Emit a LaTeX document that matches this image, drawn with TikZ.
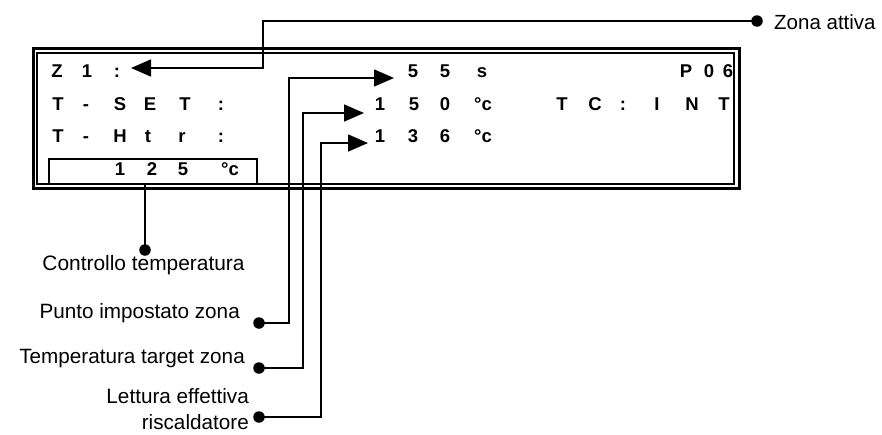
\documentclass[tikz,border=0pt]{standalone}
\usepackage{fontspec}
\setmainfont{Liberation Sans}
\usetikzlibrary{arrows.meta}
\tikzset{
  lcd/.style={font=\fontsize{18.5}{18.5}\selectfont\bfseries, inner sep=0pt, anchor=base},
  lbl/.style={font=\fontsize{20.7}{21}\selectfont, inner sep=0pt, anchor=base east},
  wire/.style={line width=1.6pt},
  arr/.style={wire, -{Triangle[length=20pt,width=17pt]}},
  dotc/.style={circle, fill=black, inner sep=0pt, minimum size=11.5pt}
}
\begin{document}
\begin{tikzpicture}[x=1pt,y=-1pt]
\useasboundingbox (0,0) rectangle (882,434);
% display frame
\draw[line width=3pt] (33,48) rectangle (739,188);
\draw[line width=2pt] (37,53) rectangle (734,184);
\node[draw, line width=1.4pt, minimum width=208pt, minimum height=25pt, inner sep=0pt] (tbox) at (153,171.5) {};
% LCD characters
\foreach \c/\x [count=\i] in {Z/57,1/87,:/117,5/413,5/445,s/482,P/686,0/709,6/728}
  \node[lcd] (ra\i) at (\x,77) {\c};
\foreach \c/\x [count=\i] in {T/58,-/86,S/120,E/150,T/185,:/221,1/380,5/414,0/445,°c/483,T/562,C/595,:/623,I/657,N/692,T/724}
  \node[lcd] (rb\i) at (\x,110) {\c};
\foreach \c/\x [count=\i] in {T/58,-/86,H/120,t/148,r/182,:/221,1/380,3/413,6/445,°c/483}
  \node[lcd] (rc\i) at (\x,142) {\c};
\foreach \c/\x [count=\i] in {1/120,2/152,5/183,°c/230}
  \node[lcd] (rd\i) at (\x,175) {\c};
% labels
\node[font=\fontsize{20.5}{21}\selectfont, inner sep=0pt, anchor=base west] (zona) at (774,29) {Zona attiva};
\node[font=\fontsize{20.9}{21}\selectfont, inner sep=0pt, anchor=base] (ctrl) at (143.5,270) {Controllo temperatura};
\node[lbl] (punto) at (240,318) {Punto impostato zona};
\node[lbl] (targ) at (245,363) {Temperatura target zona};
\node[lbl] (lett) at (249,403) {Lettura effettiva};
\node[lbl] (risc) at (249,429) {riscaldatore};
% dots
\node[dotc] (dz) at (757,21) {};
\node[dotc] (dc) at (145,250) {};
\node[dotc] (dp) at (259,323) {};
\node[dotc] (dt) at (259,368) {};
\node[dotc] (dl) at (259,417) {};
% arrow tips
\coordinate (tz) at (131,68);
\coordinate (t1) at (394,78);
\coordinate (t2) at (364,113);
\coordinate (t3) at (368,143);
% connectors
\draw[arr] (dz.center) -- (263,21) -- (263,68) -- (tz);
\draw[wire] (dc.center) -- (dc.center |- tbox.south);
\draw[arr] (dp.center) -- (289,323) -- (289,78) -- (t1);
\draw[arr] (dt.center) -- (303,368) -- (303,113) -- (t2);
\draw[arr] (dl.center) -- (321,417) -- (321,143) -- (t3);
\end{tikzpicture}
\end{document}
